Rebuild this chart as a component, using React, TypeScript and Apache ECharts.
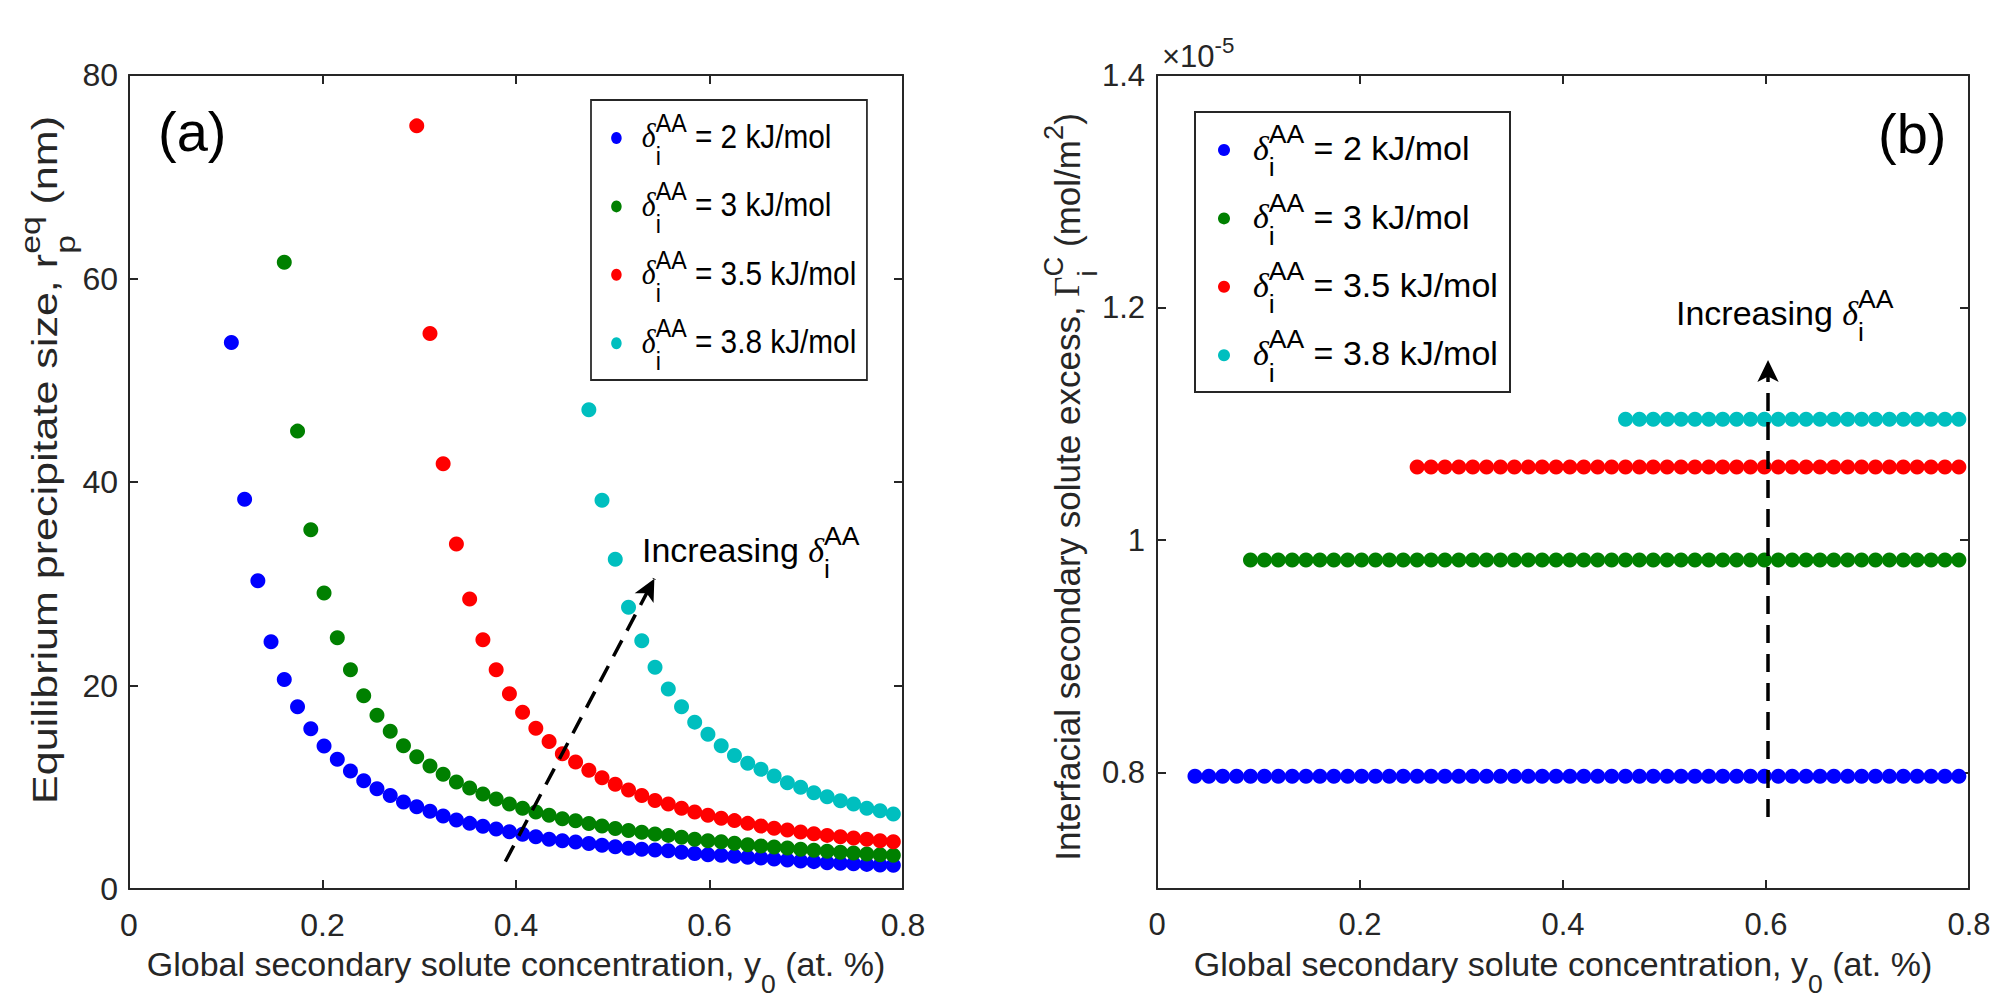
import React, { useEffect, useRef } from "react";
import * as echarts from "echarts";

// Global secondary solute concentration grid, y0 (at. %)
const Y0_GRID = [
  0.01, 0.0237, 0.0374, 0.0511, 0.0647, 0.0784, 0.0921, 0.1058, 0.1195, 0.1332,
  0.1468, 0.1605, 0.1742, 0.1879, 0.2016, 0.2153, 0.2289, 0.2426, 0.2563, 0.27,
  0.2837, 0.2974, 0.3111, 0.3247, 0.3384, 0.3521, 0.3658, 0.3795, 0.3932, 0.4068,
  0.4205, 0.4342, 0.4479, 0.4616, 0.4753, 0.4889, 0.5026, 0.5163, 0.53, 0.5437,
  0.5574, 0.5711, 0.5847, 0.5984, 0.6121, 0.6258, 0.6395, 0.6532, 0.6668, 0.6805,
  0.6942, 0.7079, 0.7216, 0.7353, 0.7489, 0.7626, 0.7763, 0.79,
];

// (a) equilibrium precipitate size r_p^eq (nm); each list ends at the last grid point
const R_EQ_2 = [
  53.7, 38.3, 30.3, 24.3, 20.6, 17.9, 15.75, 14.05, 12.75, 11.6, 10.65, 9.86, 9.2,
  8.55, 8.09, 7.63, 7.17, 6.78, 6.45, 6.16, 5.9, 5.63, 5.37, 5.14, 4.88, 4.75, 4.62,
  4.47, 4.31, 4.16, 4.01, 3.9, 3.83, 3.77, 3.6, 3.5, 3.37, 3.31, 3.21, 3.11, 3.05,
  2.95, 2.85, 2.75, 2.69, 2.59, 2.52, 2.49, 2.42, 2.36, 2.33,
];
const R_EQ_3 = [
  61.6, 45.0, 35.3, 29.1, 24.7, 21.55, 19.0, 17.07, 15.5, 14.09, 13.0, 12.09, 11.27,
  10.52, 9.93, 9.34, 8.85, 8.35, 7.93, 7.57, 7.24, 6.91, 6.7, 6.44, 6.18, 5.95, 5.75,
  5.58, 5.4, 5.27, 5.08, 4.88, 4.75, 4.65, 4.49, 4.36, 4.23, 4.13, 4.03, 3.9, 3.8,
  3.7, 3.6, 3.54, 3.44, 3.37, 3.31,
];
const R_EQ_35 = [
  75.0, 54.6, 41.8, 33.9, 28.5, 24.5, 21.55, 19.2, 17.37, 15.8, 14.5, 13.3, 12.48,
  11.67, 10.94, 10.3, 9.72, 9.2, 8.7, 8.35, 7.93, 7.57, 7.24, 6.95, 6.72, 6.45, 6.19,
  5.96, 5.8, 5.6, 5.44, 5.27, 5.14, 5.01, 4.88, 4.75, 4.65,
];
const R_EQ_38 = [
  47.1, 38.2, 32.4, 27.7, 24.4, 21.8, 19.65, 17.9, 16.4, 15.2, 14.08, 13.13, 12.35,
  11.76, 11.1, 10.45, 10.0, 9.46, 9.07, 8.68, 8.35, 7.93, 7.7, 7.37,
];

// (b) interfacial secondary solute excess Γ_i^C (×10^-5 mol/m²)
const GAMMA_2 = [
  0.797, 0.797, 0.797, 0.797, 0.797, 0.797, 0.797, 0.797, 0.797, 0.797, 0.797, 0.797, 0.797, 0.797,
  0.797, 0.797, 0.797, 0.797, 0.797, 0.797, 0.797, 0.797, 0.797, 0.797, 0.797, 0.797, 0.797, 0.797,
  0.797, 0.797, 0.797, 0.797, 0.797, 0.797, 0.797, 0.797, 0.797, 0.797, 0.797, 0.797, 0.797, 0.797,
  0.797, 0.797, 0.797, 0.797, 0.797, 0.797, 0.797, 0.797, 0.797, 0.797, 0.797, 0.797, 0.797, 0.797,
];
const GAMMA_3 = [
  0.983, 0.983, 0.983, 0.983, 0.983, 0.983, 0.983, 0.983, 0.983, 0.983, 0.983, 0.983, 0.983,
  0.983, 0.983, 0.983, 0.983, 0.983, 0.983, 0.983, 0.983, 0.983, 0.983, 0.983, 0.983, 0.983,
  0.983, 0.983, 0.983, 0.983, 0.983, 0.983, 0.983, 0.983, 0.983, 0.983, 0.983, 0.983, 0.983,
  0.983, 0.983, 0.983, 0.983, 0.983, 0.983, 0.983, 0.983, 0.983, 0.983, 0.983, 0.983, 0.983,
];
const GAMMA_35 = [
  1.063, 1.063, 1.063, 1.063, 1.063, 1.063, 1.063, 1.063, 1.063, 1.063,
  1.063, 1.063, 1.063, 1.063, 1.063, 1.063, 1.063, 1.063, 1.063, 1.063,
  1.063, 1.063, 1.063, 1.063, 1.063, 1.063, 1.063, 1.063, 1.063, 1.063,
  1.063, 1.063, 1.063, 1.063, 1.063, 1.063, 1.063, 1.063, 1.063, 1.063,
];
const GAMMA_38 = [
  1.104, 1.104, 1.104, 1.104, 1.104,
  1.104, 1.104, 1.104, 1.104, 1.104,
  1.104, 1.104, 1.104, 1.104, 1.104,
  1.104, 1.104, 1.104, 1.104, 1.104,
  1.104, 1.104, 1.104, 1.104, 1.104,
];

const DELTA_LABELS = ["2", "3", "3.5", "3.8"];
const SERIES_COLORS = ["#0000ff", "#008000", "#ff0000", "#00bfbf"];

const Y0_TICKS = [0, 0.2, 0.4, 0.6, 0.8];
const R_TICKS = [0, 20, 40, 60, 80];
const GAMMA_TICKS = [0.8, 1, 1.2, 1.4];
const GAMMA_RANGE = [0.7, 1.4];

// "Increasing δ" arrows, in data coordinates of each panel
const ARROW_A = [[0.389, 2.7], [0.543, 30.5]];
const ARROW_B = [[0.602, 0.762], [0.602, 1.155]];

const SANS = "'Liberation Sans', Arial, Helvetica, sans-serif";
const SERIF = "'Liberation Serif', 'Times New Roman', serif";
const INK = "#262626";

let measureCtx: CanvasRenderingContext2D | null = null;
function textWidth(text: string, size: number, family: string, style: string) {
  if (!measureCtx) measureCtx = document.createElement("canvas").getContext("2d");
  measureCtx!.font = `${style} ${size}px ${family}`;
  return measureCtx!.measureText(text).width;
}

type Piece = { t: string; k?: number; dy?: number; serif?: boolean; italic?: boolean; stack?: boolean };

// Lays out a run of text pieces (with TeX-like sub/superscripts) on a common baseline at y = 0.
function run(pieces: Piece[], F: number, fill: string) {
  let x = 0;
  let gs = 0;
  let gw = 0;
  const children = pieces.map((p) => {
    const size = F * (p.k ?? 1);
    const fam = p.serif ? SERIF : SANS;
    const fs = p.italic ? "italic" : "normal";
    const w = textWidth(p.t, size, fam, fs);
    let px: number;
    if (p.stack) {
      px = gs;
      gw = Math.max(gw, w);
      x = gs + gw;
    } else {
      px = x;
      gs = x;
      gw = w;
      x += w;
    }
    return {
      type: "text",
      x: px,
      y: (p.dy ?? 0) * F - 0.3465 * size,
      silent: true,
      style: {
        text: p.t,
        fontSize: size,
        fontFamily: fam,
        fontStyle: fs,
        fill,
        align: "left",
        verticalAlign: "middle",
        textAlign: "left",
        textVerticalAlign: "middle",
      },
    };
  });
  return { children, width: x };
}

function hText(pieces: Piece[], F: number, x: number, baseline: number, fill: string, centered: boolean) {
  const r = run(pieces, F, fill);
  return { type: "group", x: centered ? x - r.width / 2 : x, y: baseline, z: 10, children: r.children };
}

function vText(pieces: Piece[], F: number, baselineX: number, cy: number, fill: string, length?: number) {
  const r = run(pieces, F, fill);
  const s = length ? length / r.width : 1;
  return {
    type: "group",
    x: baselineX,
    y: cy + (r.width * s) / 2,
    rotation: Math.PI / 2,
    scaleX: s,
    z: 10,
    children: r.children,
  };
}

const DELTA_SYMBOL: Piece[] = [
  { t: "δ", serif: true, italic: true },
  { t: "AA", k: 0.78, dy: -0.49 },
  { t: "i", k: 0.78, dy: 0.49, stack: true },
];

function legendBox(left: number, top: number, sx: number) {
  const W = 315;
  const H = 280;
  const children: any[] = [
    { type: "rect", shape: { x: 0, y: 0, width: W, height: H }, style: { fill: "#fff", stroke: INK, lineWidth: 2 } },
  ];
  DELTA_LABELS.forEach((d, i) => {
    const ry = 38 + i * 68.4;
    children.push({ type: "circle", shape: { cx: 29, cy: ry, r: 6 }, style: { fill: SERIES_COLORS[i] } });
    const r = run([...DELTA_SYMBOL, { t: ` = ${d} kJ/mol` }], 34, "#000");
    children.push({ type: "group", x: 58, y: ry + 10, children: r.children });
  });
  return { type: "group", x: left, y: top, scaleX: sx, z: 20, children };
}

function pair(values: number[]) {
  const off = Y0_GRID.length - values.length;
  return values.map((v, i) => [Y0_GRID[off + i], v]);
}

const fmt = (v: number) => String(Number(v.toFixed(3)));

function frameAxis(base: any, labels: boolean, fontSize: number, margin: number, custom?: number[]) {
  return {
    type: "value",
    ...base,
    axisLine: { show: true, onZero: false, lineStyle: { color: INK, width: 2 } },
    axisTick: {
      show: true,
      inside: true,
      length: 9,
      lineStyle: { color: INK, width: 2 },
      ...(custom ? { customValues: custom } : {}),
    },
    axisLabel: {
      show: labels,
      color: INK,
      fontSize,
      fontFamily: SANS,
      margin,
      formatter: fmt,
      ...(custom ? { customValues: custom } : {}),
    },
    splitLine: { show: false },
  };
}

function arrowSeries(xi: number, yi: number, pts: number[][]) {
  return {
    type: "scatter",
    xAxisIndex: xi,
    yAxisIndex: yi,
    data: [],
    silent: true,
    z: 10,
    markLine: {
      silent: true,
      animation: false,
      symbol: ["none", "arrow"],
      symbolSize: [16, 22],
      label: { show: false },
      lineStyle: { type: [18, 11], width: 3.5, color: "#000" },
      data: [[{ coord: pts[0] }, { coord: pts[1] }]],
    },
  };
}

function scatterSeries(name: string, xi: number, yi: number, vals: number[], color: string) {
  return {
    type: "scatter",
    name,
    xAxisIndex: xi,
    yAxisIndex: yi,
    data: pair(vals),
    symbol: "circle",
    symbolSize: 15,
    itemStyle: { color, opacity: 1 },
    clip: true,
    silent: true,
  };
}

function buildOption() {
  const rSets = [R_EQ_2, R_EQ_3, R_EQ_35, R_EQ_38];
  const gSets = [GAMMA_2, GAMMA_3, GAMMA_35, GAMMA_38];
  const series: any[] = [];
  rSets.forEach((vals, i) => series.push(scatterSeries(`r${DELTA_LABELS[i]}`, 0, 0, vals, SERIES_COLORS[i])));
  gSets.forEach((vals, i) => series.push(scatterSeries(`g${DELTA_LABELS[i]}`, 2, 2, vals, SERIES_COLORS[i])));
  series.push(arrowSeries(0, 0, ARROW_A));
  series.push(arrowSeries(2, 2, ARROW_B));

  const xBase = { min: Y0_TICKS[0], max: Y0_TICKS[Y0_TICKS.length - 1], interval: Y0_TICKS[1] - Y0_TICKS[0] };
  const rBase = { min: R_TICKS[0], max: R_TICKS[R_TICKS.length - 1], interval: R_TICKS[1] - R_TICKS[0] };
  const gBase = { min: GAMMA_RANGE[0], max: GAMMA_RANGE[1] };

  const xTitle: Piece[] = [
    { t: "Global secondary solute concentration, y" },
    { t: "0", k: 0.78, dy: 0.5 },
    { t: " (at. %)" },
  ];
  const increasing: Piece[] = [{ t: "Increasing " }, ...DELTA_SYMBOL];

  const graphic: any[] = [
    hText(xTitle, 34, 516, 976, INK, true),
    hText(xTitle, 34, 1563, 976, INK, true),
    vText(
      [
        { t: "Equilibrium precipitate size, r" },
        { t: "eq", k: 0.78, dy: -0.49 },
        { t: "p", k: 0.78, dy: 0.49, stack: true },
        { t: " (nm)" },
      ],
      35,
      57,
      460,
      INK,
      688
    ),
    vText(
      [
        { t: "Interfacial secondary solute excess, " },
        { t: "Γ", serif: true },
        { t: "C", k: 0.78, dy: -0.49 },
        { t: "i", k: 0.78, dy: 0.49, stack: true },
        { t: " (mol/m" },
        { t: "2", k: 0.78, dy: -0.49 },
        { t: ")" },
      ],
      35,
      1080,
      487,
      INK
    ),
    hText([{ t: "(a)" }], 56, 158, 151, "#000", false),
    hText([{ t: "(b)" }], 56, 1878, 153, "#000", false),
    hText(increasing, 34, 642, 562, "#000", false),
    hText(increasing, 34, 1676, 325, "#000", false),
    hText([{ t: "×10" }, { t: "-5", k: 0.72, dy: -0.45 }], 31, 1162, 67, INK, false),
    legendBox(591, 100, 276 / 315),
    legendBox(1195, 112, 1),
  ];

  return {
    animation: false,
    backgroundColor: "#ffffff",
    grid: [
      { left: 129, top: 75, width: 774, height: 814, containLabel: false },
      { left: 1157, top: 75, width: 812, height: 814, containLabel: false },
    ],
    xAxis: [
      frameAxis({ gridIndex: 0, position: "bottom", ...xBase }, true, 32, 20),
      frameAxis({ gridIndex: 0, position: "top", ...xBase }, false, 32, 20),
      frameAxis({ gridIndex: 1, position: "bottom", ...xBase }, true, 31, 20),
      frameAxis({ gridIndex: 1, position: "top", ...xBase }, false, 31, 20),
    ],
    yAxis: [
      frameAxis({ gridIndex: 0, position: "left", ...rBase }, true, 32, 11),
      frameAxis({ gridIndex: 0, position: "right", ...rBase }, false, 32, 11),
      frameAxis({ gridIndex: 1, position: "left", ...gBase }, true, 31, 12, GAMMA_TICKS),
      frameAxis({ gridIndex: 1, position: "right", ...gBase }, false, 31, 12, GAMMA_TICKS),
    ],
    series,
    graphic,
  };
}

export default function App() {
  const ref = useRef<HTMLDivElement>(null);
  useEffect(() => {
    const el = ref.current;
    if (!el) return;
    const chart = echarts.init(el, undefined, { renderer: "svg" });
    chart.setOption(buildOption() as any);
    return () => chart.dispose();
  }, []);
  return (
    <div
      ref={ref}
      style={{ position: "fixed", left: 0, top: 0, width: 2009, height: 1004, background: "#ffffff" }}
    />
  );
}
